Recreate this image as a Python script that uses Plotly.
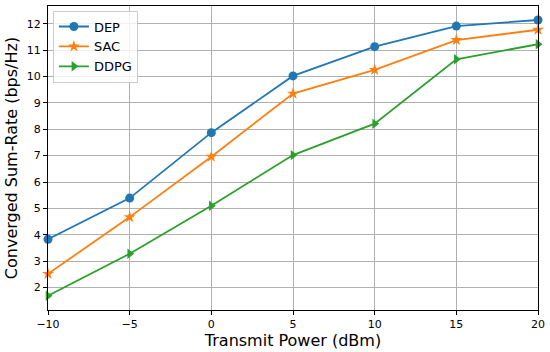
import plotly.graph_objects as go

power = [-10, -5, 0, 5, 10, 15, 20]
dep = [3.83, 5.39, 7.87, 10.02, 11.13, 11.91, 12.14]
sac = [2.52, 4.67, 6.96, 9.35, 10.25, 11.38, 11.77]
ddpg = [1.69, 3.28, 5.10, 7.02, 8.21, 10.65, 11.22]
x_ticktext = ["−10", "−5", "0", "5", "10", "15", "20"]
y_ticks = [2, 3, 4, 5, 6, 7, 8, 9, 10, 11, 12]

series = [
    ("DEP", dep, "#1f77b4", "circle", 9),
    ("SAC", sac, "#ff7f0e", "star", 9),
    ("DDPG", ddpg, "#2ca02c", "triangle-right", 9),
]

fig = go.Figure()
for name, vals, color, sym, size in series:
    fig.add_trace(go.Scatter(
        x=power, y=vals, name=name, mode="lines+markers",
        line=dict(color=color, width=1.8),
        marker=dict(symbol=sym, size=size, color=color),
        cliponaxis=False,
    ))

fig.update_layout(
    width=550, height=352,
    margin=dict(l=48, r=12, t=6, b=42, autoexpand=False),
    paper_bgcolor="white", plot_bgcolor="white",
    font=dict(family="DejaVu Sans", color="black"),
    legend=dict(
        x=0.01, y=0.985, xanchor="left", yanchor="top",
        bgcolor="rgba(255,255,255,0.8)", bordercolor="#cccccc", borderwidth=1,
        font=dict(size=13), tracegroupgap=0,
    ),
    showlegend=True,
)
fig.update_xaxes(
    range=[-10, 20], tickvals=power, ticktext=x_ticktext,
    showgrid=True, gridcolor="#b0b0b0", gridwidth=1,
    showline=True, linecolor="black", linewidth=1.2, mirror=True,
    ticks="outside", ticklen=4, tickcolor="black", tickfont=dict(size=11),
    title=dict(text="Transmit Power (dBm)", font=dict(size=16), standoff=3),
    zeroline=False, automargin=False,
)
fig.update_yaxes(
    range=[1.15, 12.67], tickvals=y_ticks,
    showgrid=True, gridcolor="#b0b0b0", gridwidth=1,
    showline=True, linecolor="black", linewidth=1.2, mirror=True,
    ticks="outside", ticklen=4, tickcolor="black", tickfont=dict(size=11),
    title=dict(text="Converged Sum-Rate (bps/Hz)", font=dict(size=16), standoff=5),
    zeroline=False, automargin=False,
)
fig.write_html(
    "out.html",
    config={"displayModeBar": False},
    post_script="document.body.style.margin='0';document.body.style.overflow='hidden';",
)
